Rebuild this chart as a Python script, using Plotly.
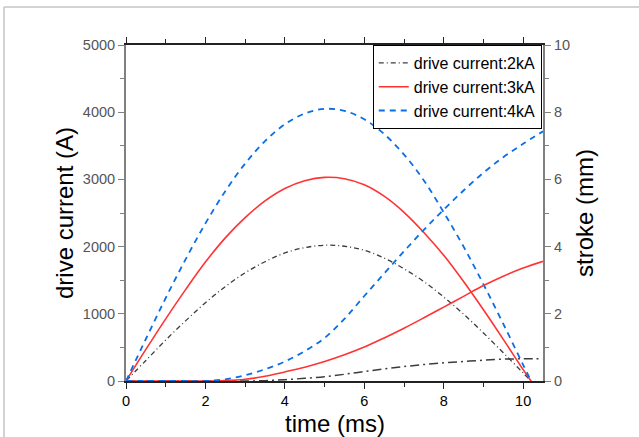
import plotly.graph_objects as go

# ---- data ----
t_current = [0, 0.5, 1, 1.5, 2, 2.5, 3, 3.5, 4, 4.5, 5, 5.5, 6, 6.5, 7, 7.5, 8, 8.5, 9, 9.5, 10, 10.2]
current_2kA = [0, 305, 610, 895, 1165, 1405, 1610, 1775, 1905, 1985, 2020, 2005, 1945, 1830, 1670, 1480, 1250, 995, 715, 420, 120, 0]
current_3kA = [0, 470, 925, 1360, 1770, 2130, 2430, 2680, 2865, 2980, 3030, 3010, 2920, 2750, 2510, 2210, 1870, 1480, 1060, 620, 170, 0]
current_4kA = [0, 625, 1235, 1810, 2345, 2825, 3235, 3570, 3820, 3980, 4050, 4020, 3895, 3675, 3370, 2985, 2510, 2000, 1440, 850, 240, 0]

t_stroke = [0, 0.5, 1, 1.5, 2, 2.5, 3, 3.5, 4, 4.5, 5, 5.5, 6, 6.5, 7, 7.5, 8, 8.5, 9, 9.5, 10, 10.5]
stroke_2kA = [0, 0, 0, 0, 0, 0, 0, 0.01, 0.04, 0.08, 0.13, 0.20, 0.28, 0.36, 0.43, 0.49, 0.54, 0.58, 0.62, 0.65, 0.66, 0.66]
stroke_3kA = [0, 0, 0, 0, 0, 0.01, 0.05, 0.14, 0.27, 0.41, 0.58, 0.78, 1.01, 1.28, 1.57, 1.88, 2.20, 2.52, 2.84, 3.12, 3.36, 3.56]
stroke_4kA = [0, 0, 0, 0, 0, 0.05, 0.17, 0.35, 0.58, 0.89, 1.28, 1.85, 2.53, 3.20, 3.86, 4.50, 5.10, 5.67, 6.20, 6.66, 7.06, 7.43]

labels = ["drive current:2kA", "drive current:3kA", "drive current:4kA"]
x_title = "time (ms)"
y_title = "drive current (A)"
y2_title = "stroke (mm)"

GRAY = "#3c3c3c"
RED = "#ff3333"
BLUE = "#0a6ee6"

fig = go.Figure()
fig.add_trace(go.Scatter(x=t_current, y=current_2kA, mode="lines", name=labels[0],
                         line=dict(color=GRAY, width=1.3, dash="5px,3px,1px,3px", shape="spline")))
fig.add_trace(go.Scatter(x=t_current, y=current_3kA, mode="lines", name=labels[1],
                         line=dict(color=RED, width=1.6, shape="spline")))
fig.add_trace(go.Scatter(x=t_current, y=current_4kA, mode="lines", name=labels[2],
                         line=dict(color=BLUE, width=1.8, dash="6px,5px", shape="spline")))

fig.add_trace(go.Scatter(x=t_stroke, y=stroke_2kA, mode="lines", yaxis="y2", showlegend=False,
                         line=dict(color=GRAY, width=1.5, dash="9px,4px,2px,4px", shape="spline")))
fig.add_trace(go.Scatter(x=t_stroke, y=stroke_3kA, mode="lines", yaxis="y2", showlegend=False,
                         line=dict(color=RED, width=1.6, shape="spline")))
fig.add_trace(go.Scatter(x=t_stroke, y=stroke_4kA, mode="lines", yaxis="y2", showlegend=False,
                         line=dict(color=BLUE, width=1.8, dash="6px,5px", shape="spline")))

FONT = "Liberation Sans, Arial, sans-serif"
tickfont_gray = dict(family=FONT, size=14.5, color="#555555")
title_font = dict(family=FONT, size=24, color="black")

fig.update_layout(
    width=639, height=437,
    margin=dict(l=126, r=96, t=45, b=56),
    paper_bgcolor="white", plot_bgcolor="white",
    font=dict(family=FONT, color="black"),
    xaxis=dict(
        range=[0, 10.5], tickvals=[0, 2, 4, 6, 8, 10], automargin=False,
        ticks="outside", ticklen=6, tickwidth=1.3, tickcolor="#222222",
        minor=dict(tickvals=[1, 3, 5, 7, 9], ticks="outside", ticklen=4, tickcolor="#222222"),
        showline=True, linecolor="#222222", linewidth=1.5, mirror="ticks",
        showgrid=False, zeroline=False,
        tickfont=dict(family=FONT, size=14.5, color="black"),
    ),
    yaxis=dict(
        range=[0, 5000], tickvals=[0, 1000, 2000, 3000, 4000, 5000], automargin=False,
        ticks="outside", ticklen=6, tickwidth=1.3, tickcolor="#808080",
        minor=dict(tickvals=[500, 1500, 2500, 3500, 4500], ticks="outside", ticklen=4, tickcolor="#808080"),
        showline=True, linecolor="#808080", linewidth=2,
        showgrid=False, zeroline=False,
        tickfont=tickfont_gray,
    ),
    yaxis2=dict(
        range=[0, 10], tickvals=[0, 2, 4, 6, 8, 10], overlaying="y", side="right", automargin=False,
        ticks="outside", ticklen=6, tickwidth=1.3, tickcolor="#808080",
        minor=dict(tickvals=[1, 3, 5, 7, 9], ticks="outside", ticklen=4, tickcolor="#808080"),
        showline=True, linecolor="#808080", linewidth=2,
        showgrid=False, zeroline=False,
        tickfont=tickfont_gray,
    ),
    legend=dict(
        x=0.997, xanchor="right", y=1, yanchor="top",
        bgcolor="white", bordercolor="black", borderwidth=1,
        font=dict(family=FONT, size=16, color="black"),
        tracegroupgap=0, itemwidth=30,
    ),
    showlegend=True,
)

# axis titles
fig.add_annotation(text=x_title, xref="paper", yref="paper", x=0.5, y=(381 - 423) / 336,
                   xanchor="center", yanchor="middle", showarrow=False, font=title_font)
fig.add_annotation(text=y_title, xref="paper", yref="paper", x=(64 - 126) / 417, y=0.5,
                   textangle=-90, xanchor="center", yanchor="middle", showarrow=False, font=title_font)
fig.add_annotation(text=y2_title, xref="paper", yref="paper", x=(584 - 126) / 417, y=0.5,
                   textangle=-90, xanchor="center", yanchor="middle", showarrow=False, font=title_font)

# outer frame lines of the picture
fig.add_shape(type="line", xref="paper", yref="paper",
              x0=(4 - 126) / 417, x1=(639 - 126) / 417 + 0.01,
              y0=(381 - 7) / 336, y1=(381 - 7) / 336,
              line=dict(color="#c4c4c4", width=1.5))
fig.add_shape(type="line", xref="paper", yref="paper",
              x0=(4 - 126) / 417, x1=(4 - 126) / 417,
              y0=(381 - 7) / 336, y1=(381 - 440) / 336,
              line=dict(color="#c4c4c4", width=1.5))

fig.write_html("out.html")
